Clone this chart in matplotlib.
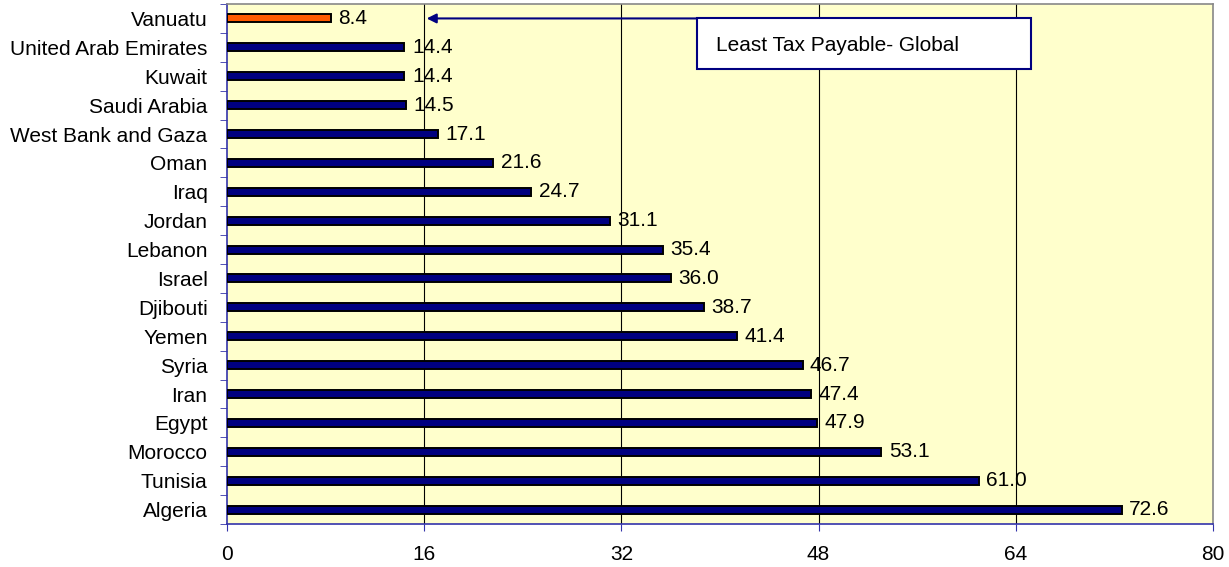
import numpy as np
import matplotlib.pyplot as plt
from matplotlib.patches import Rectangle

plt.rcParams['font.family'] = ['Liberation Sans', 'DejaVu Sans']

# data (top to bottom)
countries = ['Vanuatu', 'United Arab Emirates', 'Kuwait', 'Saudi Arabia',
             'West Bank and Gaza', 'Oman', 'Iraq', 'Jordan', 'Lebanon',
             'Israel', 'Djibouti', 'Yemen', 'Syria', 'Iran', 'Egypt',
             'Morocco', 'Tunisia', 'Algeria']
tax = [8.4, 14.4, 14.4, 14.5, 17.1, 21.6, 24.7, 31.1, 35.4, 36.0,
       38.7, 41.4, 46.7, 47.4, 47.9, 53.1, 61.0, 72.6]
xticks = [0, 16, 32, 48, 64, 80]

fs = 15
navy = '#000080'
fig = plt.figure(figsize=(12.29, 5.67), dpi=100)
ax = fig.add_axes([227/1229, 1 - 524/567, (1213 - 227)/1229, 520/567])
ax.set_facecolor('#FFFFCC')

y = np.arange(len(countries))
colors = ['#FF5A00'] + [navy] * (len(countries) - 1)
ax.barh(y, tax, height=0.28, color=colors, edgecolor='black', linewidth=1.4, zorder=3)
for yi, v in zip(y, tax):
    ax.text(v + 0.6, yi, f'{v:.1f}', va='center', ha='left', fontsize=fs, zorder=4)

ax.set_xlim(0, 80)
ax.set_ylim(len(countries) - 0.5, -0.5)
ax.set_xticks(xticks)
ax.set_yticks(y)
ax.set_yticklabels(countries)
ax.set_yticks(np.arange(len(countries) + 1) - 0.5, minor=True)
ax.tick_params(axis='y', which='major', length=0, pad=14, labelsize=fs)
ax.tick_params(axis='y', which='minor', length=5, color='#3333AA', direction='out')
ax.tick_params(axis='x', length=5, color='#3333AA', pad=10, labelsize=fs)

for g in xticks[1:-1]:
    ax.axvline(g, color='black', linewidth=0.8, zorder=1)

ax.spines['left'].set_color('#3333AA')
ax.spines['bottom'].set_color('#3333AA')
ax.spines['top'].set_color('#888888')
ax.spines['right'].set_color('#888888')
for s in ax.spines.values():
    s.set_linewidth(1.2)

# annotation box + arrow
ax.add_patch(Rectangle((38.1, -0.02), 27.1, 1.77, facecolor='white',
                       edgecolor=navy, linewidth=1.5, zorder=5))
ax.text(39.7, 0.95, 'Least Tax Payable- Global', va='center', ha='left',
        fontsize=fs, zorder=6)
ax.annotate('', xy=(16.2, 0.0), xytext=(38.1, 0.0),
            arrowprops=dict(arrowstyle='-|>', color=navy, lw=1.5,
                            mutation_scale=14, shrinkA=0, shrinkB=0),
            zorder=5)

plt.savefig('out.png', dpi=100)
